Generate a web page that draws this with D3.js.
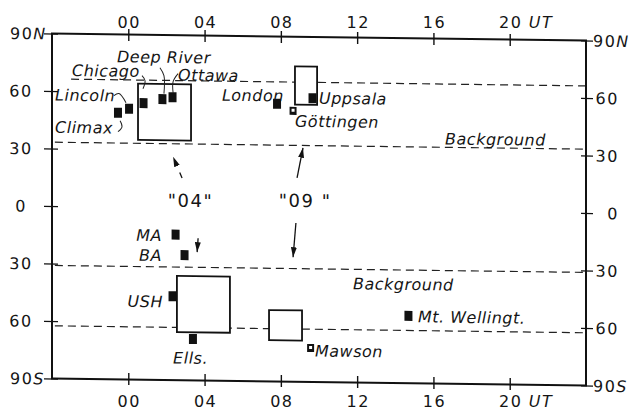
<!DOCTYPE html>
<html>
<head>
<meta charset="utf-8">
<title>Stations UT vs latitude</title>
<script src="https://d3js.org/d3.v7.min.js"></script>
<style>
  body { margin: 0; background: #fff; }
  svg text { font-family: "DejaVu Sans", sans-serif; font-size: 16px; fill: #151515; }
  .tick-lbl { letter-spacing: 1.5px; }
  .lbl { font-style: italic; letter-spacing: 0.5px; }
  .ev { font-size: 18px; letter-spacing: 1.5px; }
</style>
</head>
<body>
<div id="chart"></div>
<script>
// axis ticks
const hourTicks = [0, 4, 8, 12, 16, 20]
const hourLabels = ['00', '04', '08', '12', '16', '20']
const latTicks = [90, 60, 30, 0, -30, -60, -90]
const latLabels = ['90', '60', '30', '0', '30', '60', '90']
const latSuffix = ['N', '', '', '', '', '', 'S']

// stations: UT hour, latitude
const stations = [
  { name: 'Climax', h: -0.54, lat: 49.1, kind: 'solid' },
  { name: 'Lincoln', h: 0.04, lat: 51.3, kind: 'solid' },
  { name: 'Chicago', h: 0.80, lat: 54.3, kind: 'solid' },
  { name: 'Deep River', h: 1.79, lat: 56.5, kind: 'solid' },
  { name: 'Ottawa', h: 2.32, lat: 57.6, kind: 'solid' },
  { name: 'London', h: 7.80, lat: 54.9, kind: 'solid' },
  { name: 'Göttingen', h: 8.64, lat: 51.3, kind: 'open' },
  { name: 'Uppsala', h: 9.66, lat: 58.0, kind: 'solid' },
  { name: 'MA', h: 2.48, lat: -14.1, kind: 'solid' },
  { name: 'BA', h: 2.95, lat: -24.7, kind: 'solid' },
  { name: 'USH', h: 2.32, lat: -46.3, kind: 'solid' },
  { name: 'Ells.', h: 3.39, lat: -68.4, kind: 'solid' },
  { name: 'Mt. Wellingt.', h: 14.69, lat: -54.9, kind: 'solid' },
  { name: 'Mawson', h: 9.56, lat: -72.3, kind: 'open' }
]

// event regions "04" and "09": hour range, latitude range
const boxes = [
  { ev: '04', h0: 0.51, h1: 3.29, lat0: 35.1, lat1: 64.4 },
  { ev: '09', h0: 8.74, h1: 9.90, lat0: 54.6, lat1: 74.5 },
  { ev: '04', h0: 2.55, h1: 5.33, lat0: -64.9, lat1: -35.6 },
  { ev: '09', h0: 7.38, h1: 9.11, lat0: -68.5, lat1: -52.8 }
]

// background boundaries
const bgLines = [
  { lat: 66.3, h0: -3.0, h1: 24 },
  { lat: 33.3, h0: -3.85, h1: 24 },
  { lat: -31.0, h0: -3.85, h1: 24 },
  { lat: -62.5, h0: -3.85, h1: 24 }
]

// station names and notes
const labels = [
  { t: 'Deep River', h: -0.59, lat: 75.5, a: 'start' },
  { t: 'Chicago', h: -2.95, lat: 67.9, a: 'start' },
  { t: 'Ottawa', h: 2.61, lat: 66.3, a: 'start' },
  { t: 'Lincoln', h: -3.84, lat: 55.0, a: 'start' },
  { t: 'Climax', h: -3.84, lat: 38.2, a: 'start' },
  { t: 'London', h: 4.91, lat: 56.1, a: 'start' },
  { t: 'Uppsala', h: 10.0, lat: 55.2, a: 'start' },
  { t: 'Göttingen', h: 8.74, lat: 43.0, a: 'start' },
  { t: 'Background', h: 16.61, lat: 34.8, a: 'start' },
  { t: 'MA', h: 1.77, lat: -17.6, a: 'end' },
  { t: 'BA', h: 1.77, lat: -28.0, a: 'end' },
  { t: 'USH', h: 1.82, lat: -52.1, a: 'end' },
  { t: 'Ells.', h: 2.35, lat: -81.3, a: 'start' },
  { t: 'Background', h: 11.78, lat: -41.4, a: 'start' },
  { t: 'Mt. Wellingt.', h: 15.19, lat: -58.2, a: 'start' },
  { t: 'Mawson', h: 9.79, lat: -76.7, a: 'start' }
]

const eventLabels = [
  { t: '"04"', h: 3.26, lat: 0.4 },
  { t: '"09 "', h: 9.27, lat: 1.2 }
]

const arrows = [
  { h0: 2.82, lat0: 15.5, h1: 2.35, lat1: 26.5, dashed: true },
  { h0: 3.66, lat0: -15.8, h1: 3.61, lat1: -23.1, dashed: false },
  { h0: 8.85, lat0: 16.3, h1: 9.16, lat1: 32.1, dashed: false },
  { h0: 8.79, lat0: -7.2, h1: 8.64, lat1: -25.1, dashed: false }
]

// little leader strokes from names to squares
const leaders = [
  [[-0.75, 58.0], [-0.49, 59.1], [-0.12, 54.4]],
  [[-0.54, 39.2], [-0.33, 41.8], [-0.43, 44.9]],
  [[0.72, 68.6], [0.88, 66.0], [0.77, 61.8]],
  [[1.66, 72.9], [1.87, 68.8], [1.87, 59.4]],
  [[2.61, 69.9], [2.35, 65.7], [2.35, 59.9]]
]

const width = 634, height = 411
const x = d3.scaleLinear().domain([-4, 24]).range([52, 586])
const y = d3.scaleLinear().domain([-90, 90]).range([378.5, 33.5])
const skew = 0.75 // the scanned frame sags to the right

const svg = d3.select('#chart').append('svg').attr('width', width).attr('height', height)

svg.append('defs').append('marker')
  .attr('id', 'head')
  .attr('viewBox', '0 0 10 6')
  .attr('refX', 10).attr('refY', 3)
  .attr('markerWidth', 10).attr('markerHeight', 6)
  .attr('markerUnits', 'userSpaceOnUse')
  .attr('orient', 'auto')
  .append('path').attr('d', 'M0,0 L10,3 L0,6 z').attr('fill', '#111')

const plot = svg.append('g')
  .attr('transform', 'translate(0,' + (-x.range()[0] * Math.tan(skew * Math.PI / 180)) + ') skewY(' + skew + ')')

// background lines
plot.selectAll('.bg')
  .data(bgLines)
  .enter().append('line')
  .attr('x1', d => x(d.h0)).attr('x2', d => x(d.h1))
  .attr('y1', d => y(d.lat)).attr('y2', d => y(d.lat))
  .attr('stroke', '#222').attr('stroke-width', 1.2)
  .attr('stroke-dasharray', '8,5')

// event boxes
plot.selectAll('.box')
  .data(boxes)
  .enter().append('rect')
  .attr('x', d => x(d.h0))
  .attr('y', d => y(d.lat1))
  .attr('width', d => x(d.h1) - x(d.h0))
  .attr('height', d => y(d.lat0) - y(d.lat1))
  .attr('fill', '#fff').attr('stroke', '#111').attr('stroke-width', 1.8)

// frame
plot.append('rect')
  .attr('x', x(-4)).attr('y', y(90))
  .attr('width', x(24) - x(-4)).attr('height', y(-90) - y(90))
  .attr('fill', 'none').attr('stroke', '#111').attr('stroke-width', 2)

// tick crosses on all four sides
const tickStyle = g => {
  g.select('.domain').remove()
  g.selectAll('line').attr('stroke', '#111').attr('stroke-width', 1.4)
}
plot.append('g').attr('transform', 'translate(58,0)')
  .call(d3.axisLeft(y).tickValues(latTicks).tickSize(14).tickFormat(''))
  .call(tickStyle)
plot.append('g').attr('transform', 'translate(581,0)')
  .call(d3.axisRight(y).tickValues(latTicks).tickSize(12).tickFormat(''))
  .call(tickStyle)
plot.append('g').attr('transform', 'translate(0,40)')
  .call(d3.axisTop(x).tickValues(hourTicks).tickSize(12).tickFormat(''))
  .call(tickStyle)
plot.append('g').attr('transform', 'translate(0,372)')
  .call(d3.axisBottom(x).tickValues(hourTicks).tickSize(12).tickFormat(''))
  .call(tickStyle)

// latitude labels, left and right
const leftLbl = plot.selectAll('.ll')
  .data(latTicks)
  .enter().append('text')
  .attr('class', 'tick-lbl')
  .attr('x', (d, i) => latSuffix[i] ? 10 : 21)
  .attr('y', d => y(d) + 6)
  .attr('text-anchor', (d, i) => latSuffix[i] ? 'start' : 'middle')
leftLbl.append('tspan').text((d, i) => latLabels[i])
leftLbl.append('tspan').attr('font-style', 'italic').text((d, i) => latSuffix[i])

const rightLbl = plot.selectAll('.rl')
  .data(latTicks)
  .enter().append('text')
  .attr('class', 'tick-lbl')
  .attr('x', (d, i) => latSuffix[i] ? 593 : 619)
  .attr('y', d => y(d) + 6)
  .attr('text-anchor', (d, i) => latSuffix[i] ? 'start' : 'end')
rightLbl.append('tspan').text((d, i) => latLabels[i])
rightLbl.append('tspan').attr('font-style', 'italic').text((d, i) => latSuffix[i])

// leaders
const leaderLine = d3.line().x(p => x(p[0])).y(p => y(p[1])).curve(d3.curveCatmullRom)
plot.selectAll('.leader')
  .data(leaders)
  .enter().append('path')
  .attr('d', leaderLine)
  .attr('fill', 'none').attr('stroke', '#222').attr('stroke-width', 1)

// arrows
plot.selectAll('.arrow')
  .data(arrows)
  .enter().append('line')
  .attr('x1', d => x(d.h0)).attr('y1', d => y(d.lat0))
  .attr('x2', d => x(d.h1)).attr('y2', d => y(d.lat1))
  .attr('stroke', '#111').attr('stroke-width', 1.3)
  .attr('stroke-dasharray', d => d.dashed ? '6,7' : null)
  .attr('marker-end', 'url(#head)')

// station squares
const st = plot.selectAll('.st')
  .data(stations)
  .enter().append('g')
  .attr('transform', d => 'translate(' + x(d.h) + ',' + y(d.lat) + ')')
st.append('rect')
  .attr('x', d => d.kind === 'open' ? -3.5 : -4)
  .attr('y', d => d.kind === 'open' ? -4 : -5)
  .attr('width', d => d.kind === 'open' ? 7 : 8)
  .attr('height', d => d.kind === 'open' ? 8 : 10)
  .attr('fill', '#111')
st.filter(d => d.kind === 'open').append('rect')
  .attr('x', -1.5).attr('y', -2).attr('width', 3).attr('height', 3)
  .attr('fill', '#fff')

// names
plot.selectAll('.name')
  .data(labels)
  .enter().append('text')
  .attr('class', 'lbl')
  .attr('x', d => x(d.h)).attr('y', d => y(d.lat))
  .attr('text-anchor', d => d.a)
  .text(d => d.t)

plot.selectAll('.evl')
  .data(eventLabels)
  .enter().append('text')
  .attr('class', 'ev')
  .attr('x', d => x(d.h)).attr('y', d => y(d.lat))
  .attr('text-anchor', 'middle')
  .text(d => d.t)

// hour labels top and bottom (the scan keeps them level)
;[28, 407].forEach(base => {
  svg.selectAll('.hl' + base)
    .data(hourTicks)
    .enter().append('text')
    .attr('class', 'tick-lbl')
    .attr('x', d => x(d) + 1)
    .attr('y', base)
    .attr('text-anchor', 'middle')
    .text((d, i) => hourLabels[i])
  svg.append('text')
    .attr('class', 'tick-lbl')
    .attr('font-style', 'italic')
    .attr('x', x(20) + 19).attr('y', base)
    .text('UT')
})
</script>
</body>
</html>
